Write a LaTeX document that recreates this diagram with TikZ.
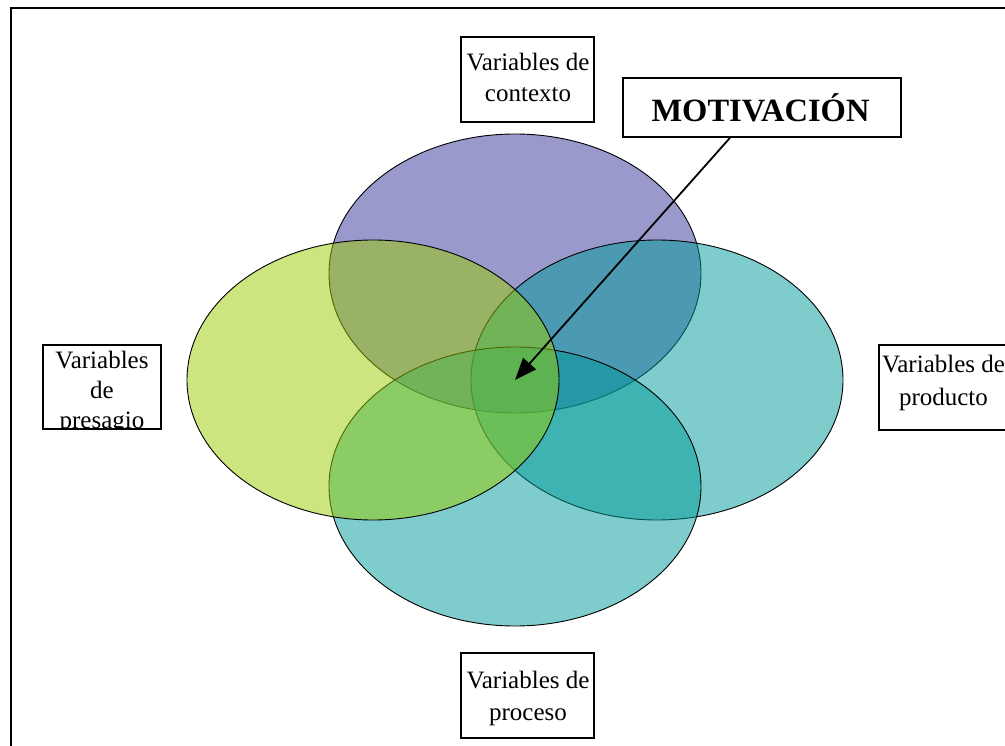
\documentclass[tikz,border=0pt]{standalone}
\usepackage{fontspec}
\setmainfont{Liberation Serif}
\usetikzlibrary{arrows.meta}
\definecolor{cPurple}{HTML}{333399}
\definecolor{cTeal}{HTML}{009999}
\definecolor{cLime}{HTML}{99CC00}
\tikzset{
  circ/.style={draw=black, line width=0.9pt, fill opacity=0.5},
  vbox/.style={draw=black, line width=1.6pt, inner sep=0pt, fill=none},
  lbl/.style={inner sep=0pt, anchor=base, font=\fontsize{25}{31}\selectfont},
  bigl/.style={inner sep=0pt, font=\fontsize{32.5}{36}\selectfont\bfseries},
  pointer/.style={line width=1.8pt, -{Triangle[length=22pt,width=17pt]}}
}
\begin{document}
\begin{tikzpicture}[x=1pt,y=-1pt]
\useasboundingbox (0,0) rectangle (1005,746);
\clip (0,0) rectangle (1005,746);
% frame
\draw[line width=2pt] (11,770) -- (11,8) -- (1030,8);
% ellipses
\fill[circ, fill=cPurple] (515,273.5) ellipse [x radius=186, y radius=139.5];
\fill[circ, fill=cTeal] (657,380) ellipse [x radius=186, y radius=140];
\fill[circ, fill=cTeal] (515,486.5) ellipse [x radius=186, y radius=139.5];
\fill[circ, fill=cLime] (373,380) ellipse [x radius=186, y radius=140];
% boxes
\node[vbox, minimum width=133, minimum height=85] (contexto) at (527.5,79.5) {};
\node[lbl] (contexto1) at (528,71) {Variables de};
\node[lbl] (contexto2) at (528,102) {contexto};
\node[vbox, minimum width=133, minimum height=85] (proceso) at (527.5,695.5) {};
\node[lbl] (proceso1) at (528,688) {Variables de};
\node[lbl] (proceso2) at (528,720) {proceso};
\node[vbox, minimum width=129, minimum height=85] (producto) at (943.5,387.5) {};
\node[lbl] (producto1) at (943.5,373) {Variables de};
\node[lbl] (producto2) at (943.5,406) {producto};
\node[vbox, minimum width=118, minimum height=84] (presagio) at (102,387) {};
\begin{scope}
\clip (presagio.north west) rectangle (presagio.south east);
\node[lbl] (presagio1) at (102,369) {Variables};
\node[lbl] (presagio2) at (102,398) {de};
\node[lbl] (presagio3) at (102,428) {presagio};
\end{scope}
\node[vbox, minimum width=278, minimum height=59] (motiv) at (762,107.5) {};
\node[bigl] (motivtxt) at (760.5,107.5) {MOTIVACIÓN};
% arrow
\coordinate (centro) at (515,380);
\draw[pointer] ([xshift=-32pt]motiv.south) -- (centro);
\end{tikzpicture}
\end{document}
